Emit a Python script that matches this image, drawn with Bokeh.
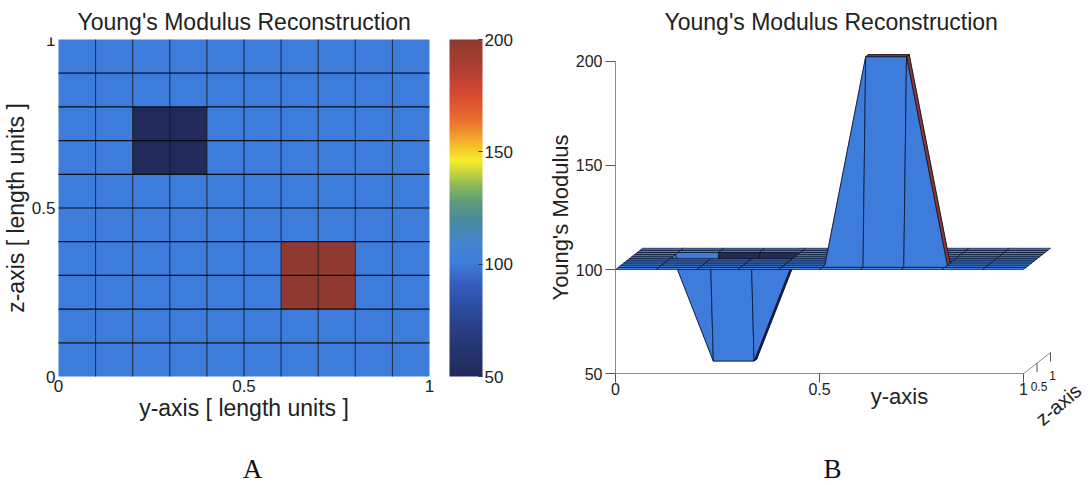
import numpy as np
from bokeh.plotting import figure
from bokeh.models import (LinearColorMapper, ColorBar, FixedTicker, LinearAxis,
                          ColumnDataSource, Range1d)
from bokeh.layouts import row
from bokeh.embed import file_html
from bokeh.resources import INLINE
from bokeh.core.properties import value

# ---------------- data ----------------
y_nodes = [0.0, 0.1, 0.2, 0.3, 0.4, 0.5, 0.6, 0.7, 0.8, 0.9, 1.0]
z_nodes = [0.0, 0.1, 0.2, 0.3, 0.4, 0.5, 0.6, 0.7, 0.8, 0.9, 1.0]
# Young's modulus at the grid nodes, one row per z node, one column per y node
modulus = [
    [100, 100, 100, 100, 100, 100, 100, 100, 100, 100, 100],
    [100, 100, 100, 100, 100, 100, 100, 100, 100, 100, 100],
    [100, 100, 100, 100, 100, 100, 200, 200, 100, 100, 100],
    [100, 100, 100, 100, 100, 100, 200, 200, 100, 100, 100],
    [100, 100, 100, 100, 100, 100, 100, 100, 100, 100, 100],
    [100, 100, 100, 100, 100, 100, 100, 100, 100, 100, 100],
    [100, 100, 50, 50, 100, 100, 100, 100, 100, 100, 100],
    [100, 100, 50, 50, 100, 100, 100, 100, 100, 100, 100],
    [100, 100, 100, 100, 100, 100, 100, 100, 100, 100, 100],
    [100, 100, 100, 100, 100, 100, 100, 100, 100, 100, 100],
    [100, 100, 100, 100, 100, 100, 100, 100, 100, 100, 100],
]
axis_ticks = [0, 0.5, 1]
axis_tick_labels = ["0", "0.5", "1"]
cbar_ticks = [50, 100, 150, 200]
modulus_ticks = [50, 100, 150, 200]
z_ticks = [0.5, 1]
z_tick_labels = ["0.5", "1"]
title_text = "Young's Modulus Reconstruction"

# ---------------- colour map ----------------
stops = [(50, "#212a59"), (62, "#263470"), (72, "#2a4088"), (82, "#2e4ea5"),
         (92, "#365fc0"), (100, "#3e7cdc"), (107, "#4282d6"), (113, "#4687c0"),
         (120, "#4a8a9c"), (128, "#5e9c78"), (135, "#8cb858"), (141, "#c8d63c"),
         (146, "#f5ee2a"), (152, "#f4c52a"), (158, "#f0962c"), (165, "#e76a2e"),
         (175, "#d84a32"), (188, "#aa3d32"), (200, "#8e3a31")]
sv = np.array([s[0] for s in stops], float)
rgb = np.array([[int(c[1:3], 16), int(c[3:5], 16), int(c[5:7], 16)] for _, c in stops], float)
vals = 50 + (np.arange(256) + 0.5) * 150 / 256
palette = []
for v in vals:
    r, g, b = (np.interp(v, sv, rgb[:, k]) for k in range(3))
    palette.append("#%02x%02x%02x" % (int(round(r)), int(round(g)), int(round(b))))
mapper = LinearColorMapper(palette=palette, low=50, high=200)

FONT = "Liberation Sans"
SERIF = "Liberation Serif"
TXT = "#222222"
H = 485
TOP = 37                       # border above both frames (holds the titles)
FRAME_TOP, FRAME_BOTTOM = float(TOP), float(H)


def style_title(p, offset):
    p.title.align = "left"
    p.title.offset = offset
    p.title.text_font = FONT
    p.title.text_font_size = "23px"
    p.title.text_font_style = "normal"
    p.title.text_color = TXT
    p.title.standoff = 5


# ---------------- A: pcolor map ----------------
W1 = 548
AX0, AX1, AZ0, AZ1 = 58.0, 429.0, 376.0, 39.0   # page box of the map
ASX, ASZ = AX1 - AX0, AZ0 - AZ1
xr1 = Range1d((0.0 - AX0) / ASX, (W1 - AX0) / ASX)
yr1 = Range1d((AZ0 - FRAME_BOTTOM) / ASZ, (AZ0 - FRAME_TOP) / ASZ)

cells = dict(left=[], right=[], bottom=[], top=[], val=[])
for j in range(len(z_nodes) - 1):
    for i in range(len(y_nodes) - 1):
        cells["left"].append(y_nodes[i]); cells["right"].append(y_nodes[i + 1])
        cells["bottom"].append(z_nodes[j]); cells["top"].append(z_nodes[j + 1])
        cells["val"].append(modulus[j][i])

p1 = figure(width=W1, height=H, x_range=xr1, y_range=yr1, x_axis_location=None,
            y_axis_location=None, output_backend="svg", toolbar_location=None,
            title=title_text, min_border=0, min_border_top=TOP)
p1.outline_line_color = None
p1.grid.visible = False
style_title(p1, 77)
p1.quad(left="left", right="right", bottom="bottom", top="top",
        fill_color={"field": "val", "transform": mapper}, line_color=None,
        source=ColumnDataSource(cells))
inner_y = y_nodes[1:-1]
inner_z = z_nodes[1:-1]
p1.segment(x0=inner_y, y0=[z_nodes[0]] * len(inner_y), x1=inner_y, y1=[z_nodes[-1]] * len(inner_y),
           line_color="black", line_alpha=0.75, line_width=1)
p1.segment(x0=[y_nodes[0]] * len(inner_z), y0=inner_z, x1=[y_nodes[-1]] * len(inner_z), y1=inner_z,
           line_color="black", line_alpha=0.9, line_width=1.2)

overrides = dict(zip(axis_ticks, axis_tick_labels))
ax_a_y = LinearAxis(fixed_location=0, bounds=(0, 1), ticker=FixedTicker(ticks=axis_ticks),
                    major_label_overrides=overrides, axis_label="y-axis [ length units ]")
ax_a_z = LinearAxis(fixed_location=0, bounds=(0, 1), ticker=FixedTicker(ticks=axis_ticks),
                    major_label_overrides=overrides, axis_label="z-axis [ length units ]")
for ax in (ax_a_y, ax_a_z):
    ax.major_tick_in = 0
    ax.major_tick_out = 0
    ax.minor_tick_line_color = None
    ax.axis_line_color = None
    ax.major_label_text_font = FONT
    ax.major_label_text_font_size = "17px"
    ax.major_label_text_color = TXT
    ax.major_label_standoff = 3
    ax.axis_label_text_font = FONT
    ax.axis_label_text_font_size = "23px"
    ax.axis_label_text_font_style = "normal"
    ax.axis_label_text_color = TXT
    ax.axis_label_standoff = 0
p1.add_layout(ax_a_y, "below")
p1.add_layout(ax_a_z, "left")

cb = ColorBar(color_mapper=mapper, ticker=FixedTicker(ticks=cbar_ticks),
              width=33, height=337, padding=0, margin=0,
              location=(449, FRAME_BOTTOM - AZ0),
              major_label_text_font=FONT, major_label_text_font_size="17px",
              major_label_text_color=TXT, label_standoff=2,
              major_tick_line_color="#333333", major_tick_in=4, major_tick_out=0,
              minor_tick_line_color=None, bar_line_color=None,
              border_line_color=None, background_fill_color=None)
p1.add_layout(cb, "center")
p1.text(x=[(252 - AX0) / ASX], y=[(AZ0 - 468) / ASZ], text=["A"],
        text_font=value(SERIF), text_font_size="27px", text_color="#111111",
        text_align="center", text_baseline="middle")

# ---------------- B: surface view ----------------
W2 = 1092 - W1
PX0, PY50 = 615.0, 373.3        # page position of y=0 and of modulus 50
SX, SV = 408.0, 2.085           # px per unit y, px per unit modulus
DX, DV = 27.0 / SX, 21.3 / SV   # shift per unit z (depth)
page_left = float(W1)
xr2 = Range1d((page_left - PX0) / SX, (page_left + W2 - PX0) / SX)
yr2 = Range1d(50 + (PY50 - FRAME_BOTTOM) / SV, 50 + (PY50 - FRAME_TOP) / SV)

p2 = figure(width=W2, height=H, x_range=xr2, y_range=yr2, x_axis_location=None,
            y_axis_location=None, output_backend="svg", toolbar_location=None,
            title=title_text, min_border=0, min_border_top=TOP)
p2.outline_line_color = None
p2.grid.visible = False
style_title(p2, 664 - W1)


def proj(yv, zv, ev):
    return yv + DX * zv, ev + DV * zv


faces = dict(xs=[], ys=[], val=[])
for j in reversed(range(len(z_nodes) - 1)):      # far rows first
    for i in range(len(y_nodes) - 1):
        corners = [(i, j), (i + 1, j), (i + 1, j + 1), (i, j + 1)]
        pts = [proj(y_nodes[a], z_nodes[b], modulus[b][a]) for a, b in corners]
        faces["xs"].append([q[0] for q in pts])
        faces["ys"].append([q[1] for q in pts])
        faces["val"].append(modulus[j][i])
p2.patches("xs", "ys", source=ColumnDataSource(faces),
           fill_color={"field": "val", "transform": mapper},
           line_color="#070a1c", line_width=0.75, line_alpha=0.9)

ax_v = LinearAxis(fixed_location=0, bounds=(50, 200), ticker=FixedTicker(ticks=modulus_ticks),
                  axis_label="Young's Modulus")
ax_y = LinearAxis(fixed_location=50, bounds=(0, 1), ticker=FixedTicker(ticks=axis_ticks),
                  major_label_overrides=overrides)
for ax in (ax_v, ax_y):
    ax.axis_line_color = "#8a8a8a"
    ax.major_tick_line_color = "#555555"
    ax.minor_tick_line_color = None
    ax.major_tick_in = 0
    ax.major_label_text_font = FONT
    ax.major_label_text_font_size = "16px"
    ax.major_label_text_color = TXT
    ax.axis_label_text_font = FONT
    ax.axis_label_text_font_size = "22px"
    ax.axis_label_text_font_style = "normal"
    ax.axis_label_text_color = TXT
ax_v.major_tick_out = 10
ax_v.major_label_standoff = 3
ax_v.axis_label_standoff = 0
ax_y.major_tick_out = 9
ax_y.major_label_standoff = 0
p2.add_layout(ax_v, "left")
p2.add_layout(ax_y, "below")

# depth (z) axis
z0x, z0v = proj(1.0, 0.0, 50)
z1x, z1v = proj(1.0, 1.0, 50)
p2.segment(x0=[z0x], y0=[z0v], x1=[z1x], y1=[z1v], line_color="#8a8a8a", line_width=1)
ztx = [proj(1.0, z, 50)[0] for z in z_ticks]
ztv = [proj(1.0, z, 50)[1] for z in z_ticks]
p2.segment(x0=ztx, y0=ztv, x1=ztx, y1=[v - 9 / SV for v in ztv], line_color="#555555", line_width=1)
p2.text(x=ztx, y=ztv, text=z_tick_labels, text_font=value(FONT), text_font_size="12px",
        text_color=TXT, text_align="center", text_baseline="middle", x_offset=2, y_offset=23)

p2.text(x=[(899 - PX0) / SX], y=[50 + (PY50 - 396) / SV], text=["y-axis"],
        text_font=value(FONT), text_font_size="22px", text_color=TXT,
        text_align="center", text_baseline="middle")
p2.text(x=[(1058 - PX0) / SX], y=[50 + (PY50 - 404) / SV], text=["z-axis"],
        text_font=value(FONT), text_font_size="20px", text_color=TXT,
        text_align="center", text_baseline="middle", angle=0.70)
p2.text(x=[(832 - PX0) / SX], y=[50 + (PY50 - 468) / SV], text=["B"],
        text_font=value(SERIF), text_font_size="27px", text_color="#111111",
        text_align="center", text_baseline="middle")

layout = row(p1, p2)
open("out.html", "w").write(file_html(layout, INLINE))
